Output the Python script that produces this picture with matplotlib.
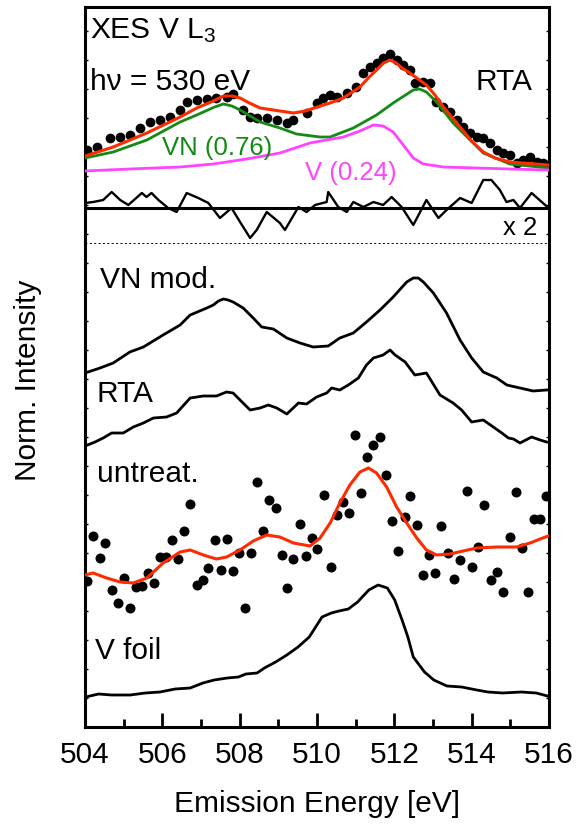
import numpy as np
import matplotlib.pyplot as plt
from matplotlib.ticker import MultipleLocator

plt.rcParams['font.family'] = ['Liberation Sans', 'DejaVu Sans']
plt.rcParams['mathtext.fontset'] = 'custom'
plt.rcParams['mathtext.rm'] = 'Liberation Sans'
plt.rcParams['mathtext.default'] = 'regular'
plt.rcParams['lines.solid_joinstyle'] = 'round'

# --- RTA sample, measured points and fit (top panel)
rta_dots_e = [504.04, 504.30, 504.65, 504.91, 505.16, 505.42, 505.68, 505.94, 506.20, 506.46,
              506.63, 506.89, 507.15, 507.40, 507.66, 507.83, 508.09, 508.27, 508.44, 508.70,
              508.96, 509.22, 509.39, 509.73, 509.99, 510.16, 510.34, 510.51, 510.77, 511.02,
              511.20, 511.37, 511.54, 511.71, 511.89, 512.06, 512.23, 512.40, 512.53, 512.75,
              512.92, 513.09, 513.27, 513.44, 513.61, 513.78, 513.96, 514.13, 514.30, 514.47,
              514.65, 514.82, 514.99, 515.16, 515.33, 515.51, 515.68, 515.85, 515.98]
rta_dots_i = [5.77, 5.80, 5.89, 5.90, 5.92, 5.99, 6.05, 6.07, 6.10, 6.17,
              6.25, 6.27, 6.28, 6.29, 6.30, 6.33, 6.17, 6.10, 6.09, 6.09,
              6.07, 6.04, 6.07, 6.14, 6.24, 6.29, 6.32, 6.30, 6.34, 6.40,
              6.54, 6.60, 6.64, 6.69, 6.73, 6.67, 6.62, 6.57, 6.44, 6.45,
              6.44, 6.25, 6.20, 6.15, 6.07, 6.00, 5.94, 5.90, 5.89, 5.84,
              5.77, 5.74, 5.72, 5.64, 5.67, 5.70, 5.65, 5.64, 5.62]

fit_e = [504.00, 504.73, 505.60, 506.46, 506.89, 507.32, 507.58, 507.80, 508.01, 508.25,
         508.53, 509.04, 509.39, 509.70, 510.08, 510.34, 510.68, 511.11, 511.35, 511.54,
         511.72, 511.89, 512.05, 512.20, 512.40, 512.83, 513.05, 513.27, 513.70, 514.00,
         514.30, 514.60, 514.99, 515.98]
fit_i = [5.71, 5.80, 5.94, 6.10, 6.19, 6.26, 6.31, 6.31, 6.29, 6.24,
         6.19, 6.16, 6.14, 6.16, 6.21, 6.24, 6.29, 6.40, 6.50, 6.57,
         6.64, 6.67, 6.64, 6.59, 6.54, 6.42, 6.32, 6.20, 6.00, 5.86,
         5.75, 5.69, 5.65, 5.62]

vn_e = [504.00, 504.73, 505.60, 506.46, 506.89, 507.35, 507.58, 507.80, 508.01, 508.53,
        509.04, 509.47, 510.08, 510.34, 510.94, 511.54, 511.97, 512.49, 512.65, 512.83,
        513.09, 513.52, 513.96, 514.30, 514.99, 515.98]
vn_i = [5.69, 5.75, 5.87, 6.05, 6.12, 6.20, 6.23, 6.21, 6.17, 6.05,
        5.99, 5.93, 5.90, 5.90, 5.99, 6.12, 6.24, 6.37, 6.38, 6.35,
        6.25, 6.04, 5.87, 5.74, 5.63, 5.59]

v_e = [504.00, 505.16, 506.46, 507.32, 508.18, 509.04, 509.82, 510.25, 510.68, 511.11,
       511.46, 511.71, 511.97, 512.23, 512.49, 512.75, 513.27, 514.13, 514.99, 515.98]
v_i = [5.56, 5.58, 5.60, 5.63, 5.68, 5.74, 5.84, 5.87, 5.90, 5.96,
       6.02, 6.01, 5.95, 5.82, 5.69, 5.63, 5.60, 5.59, 5.58, 5.57]

# residual (x2) around its zero line
resid_zero = 5.19
resid_e = [504.00, 504.21, 504.47, 504.69, 504.91, 505.12, 505.47, 505.59, 505.72, 505.90,
           506.15, 506.37, 506.63, 506.93, 507.19, 507.49, 507.79, 508.01, 508.27, 508.44,
           508.70, 509.04, 509.17, 509.52, 509.73, 509.95, 510.25, 510.29, 510.55, 510.77,
           510.94, 511.20, 511.46, 511.71, 511.93, 512.19, 512.49, 512.83, 513.14, 513.35,
           513.70, 514.00, 514.30, 514.51, 514.73, 514.90, 515.08, 515.25, 515.55, 515.90, 516.00]
resid_i = [5.24, 5.25, 5.27, 5.35, 5.27, 5.22, 5.34, 5.30, 5.34, 5.27,
           5.19, 5.15, 5.34, 5.29, 5.24, 5.09, 5.19, 5.05, 4.89, 4.97,
           5.15, 5.04, 4.97, 5.20, 5.15, 5.22, 5.25, 5.35, 5.20, 5.15,
           5.25, 5.20, 5.25, 5.22, 5.30, 5.20, 5.02, 5.27, 5.09, 5.17,
           5.29, 5.24, 5.47, 5.47, 5.37, 5.25, 5.27, 5.19, 5.34, 5.22, 5.19]
sep_level = 4.84

# --- stacked spectra (lower panel)
vnmod_e = [504.00, 504.39, 504.73, 505.16, 505.51, 506.02, 506.46, 506.72, 507.15, 507.32,
           507.45, 507.58, 507.70, 507.83, 508.09, 508.35, 508.57, 508.87, 509.22, 509.56,
           509.90, 510.29, 510.59, 510.94, 511.28, 511.63, 511.97, 512.32, 512.49, 512.62,
           512.75, 513.01, 513.35, 513.70, 514.00, 514.30, 514.65, 514.91, 515.25, 515.59, 515.94]
vnmod_i = [3.54, 3.59, 3.64, 3.75, 3.80, 3.92, 4.02, 4.12, 4.19, 4.22,
           4.26, 4.28, 4.27, 4.25, 4.19, 4.09, 4.00, 3.98, 3.89, 3.84,
           3.80, 3.81, 3.89, 3.94, 4.05, 4.17, 4.30, 4.45, 4.49, 4.49,
           4.45, 4.34, 4.14, 3.87, 3.69, 3.55, 3.49, 3.42, 3.39, 3.36, 3.37]

rta_e = [504.00, 504.26, 504.47, 504.69, 504.99, 505.25, 505.51, 505.77, 506.11, 506.37,
         506.72, 507.06, 507.40, 507.66, 507.83, 508.01, 508.27, 508.53, 508.74, 508.96,
         509.22, 509.52, 509.73, 509.99, 510.25, 510.38, 510.59, 510.81, 511.07, 511.28,
         511.46, 511.71, 511.89, 512.02, 512.28, 512.53, 512.83, 513.18, 513.52, 513.74,
         514.00, 514.30, 514.56, 514.78, 514.95, 515.08, 515.25, 515.55, 515.77, 515.94]
rta_i = [2.81, 2.85, 2.89, 2.94, 2.94, 3.00, 3.04, 3.09, 3.10, 3.14,
         3.29, 3.31, 3.31, 3.35, 3.34, 3.27, 3.17, 3.19, 3.22, 3.19,
         3.13, 3.24, 3.23, 3.30, 3.34, 3.39, 3.37, 3.42, 3.49, 3.62,
         3.69, 3.72, 3.77, 3.72, 3.65, 3.52, 3.54, 3.32, 3.24, 3.17,
         3.05, 3.07, 3.00, 2.94, 2.89, 2.88, 2.84, 2.90, 2.87, 2.85]

untr_e = [504.06, 504.21, 504.39, 504.52, 504.69, 504.86, 505.02, 505.16, 505.32, 505.47,
          505.64, 505.78, 505.94, 506.09, 506.24, 506.41, 506.56, 506.72, 506.89, 507.04,
          507.19, 507.36, 507.52, 507.66, 507.82, 507.99, 508.14, 508.29, 508.44, 508.61,
          508.77, 508.93, 509.09, 509.23, 509.39, 509.56, 509.72, 509.88, 510.01, 510.18,
          510.35, 510.51, 510.66, 510.83, 510.98, 511.13, 511.30, 511.46, 511.63, 511.78,
          511.95, 512.10, 512.27, 512.40, 512.58, 512.75, 512.90, 513.05, 513.21, 513.38,
          513.54, 513.70, 513.87, 514.02, 514.17, 514.33, 514.50, 514.66, 514.82, 514.99,
          515.15, 515.30, 515.46, 515.61, 515.77, 515.92]
untr_i = [1.46, 1.91, 1.69, 1.84, 1.37, 1.24, 1.49, 1.19, 1.40, 1.41,
          1.54, 1.44, 1.70, 1.70, 1.87, 1.68, 1.96, 2.23, 1.42, 1.47,
          1.59, 1.87, 1.57, 1.88, 1.56, 1.74, 1.19, 1.74, 2.45, 1.96,
          2.27, 2.19, 1.72, 1.39, 1.68, 2.03, 1.71, 1.89, 1.78, 2.32,
          1.60, 2.12, 2.25, 2.14, 2.92, 2.34, 2.70, 2.82, 2.90, 2.52,
          2.06, 1.76, 2.10, 2.31, 2.02, 1.52, 1.72, 1.54, 2.01, 1.74,
          1.48, 1.67, 2.36, 1.60, 1.80, 2.22, 1.47, 1.55, 1.35, 1.90,
          2.35, 1.79, 1.35, 2.08, 2.08, 2.31]

untr_fit_e = [504.00, 504.21, 504.56, 504.91, 505.25, 505.60, 506.02, 506.46, 506.72, 507.06,
              507.40, 507.66, 508.01, 508.35, 508.70, 509.04, 509.39, 509.82, 510.08, 510.34,
              510.59, 510.85, 511.11, 511.33, 511.54, 511.80, 512.06, 512.32, 512.58, 512.83,
              513.09, 513.44, 513.78, 514.13, 514.65, 515.16, 515.51, 515.77, 515.98]
untr_fit_i = [1.52, 1.54, 1.49, 1.45, 1.44, 1.49, 1.64, 1.75, 1.77, 1.72,
              1.68, 1.70, 1.77, 1.86, 1.92, 1.90, 1.84, 1.81, 1.89, 2.04,
              2.24, 2.42, 2.55, 2.59, 2.54, 2.40, 2.20, 2.04, 1.89, 1.77,
              1.72, 1.73, 1.76, 1.79, 1.80, 1.80, 1.84, 1.88, 1.91]

vfoil_e = [504.02, 504.35, 504.69, 505.17, 505.56, 505.94, 506.33, 506.72, 507.05, 507.34,
           507.68, 507.97, 508.16, 508.45, 508.64, 508.93, 509.22, 509.51, 509.80, 510.13,
           510.37, 510.57, 510.81, 511.05, 511.34, 511.58, 511.82, 512.01, 512.20, 512.35,
           512.49, 512.78, 513.02, 513.36, 513.74, 514.13, 514.42, 514.80, 515.28, 515.67, 515.96]
vfoil_i = [0.30, 0.33, 0.32, 0.32, 0.34, 0.35, 0.38, 0.39, 0.44, 0.47,
           0.49, 0.50, 0.53, 0.54, 0.59, 0.65, 0.72, 0.80, 0.90, 1.10,
           1.14, 1.16, 1.18, 1.25, 1.37, 1.42, 1.39, 1.27, 1.07, 0.90,
           0.70, 0.55, 0.47, 0.41, 0.40, 0.37, 0.35, 0.34, 0.35, 0.34, 0.31]

red = '#ff2a00'
green = '#138a13'
pink = '#ff44ff'
big = 21.5
small = 18.5

fig = plt.figure(figsize=(5.84, 8.33), dpi=100)
ax = fig.add_axes([85 / 584, 1 - 727 / 833, 464 / 584, 720 / 833])

# top panel
ax.plot(rta_dots_e, rta_dots_i, 'o', color='k', ms=7, mew=0, zorder=2)
ax.plot(vn_e, vn_i, color=green, lw=2.0, zorder=3)
ax.plot(v_e, v_i, color=pink, lw=2.0, zorder=3)
ax.plot(fit_e, fit_i, color=red, lw=2.2, zorder=4)
ax.axhline(resid_zero, color='k', lw=2.2, zorder=3)
ax.plot(resid_e, resid_i, color='k', lw=1.7, zorder=3)
ax.axhline(sep_level, color='k', lw=0.7, ls=(0, (2, 2.5)), zorder=1)

# lower panel
ax.plot(vnmod_e, vnmod_i, color='k', lw=2.0)
ax.plot(rta_e, rta_i, color='k', lw=2.0)
ax.plot(untr_e, untr_i, 'o', color='k', ms=7.2, mew=0, zorder=2)
ax.plot(untr_fit_e, untr_fit_i, color=red, lw=2.2, zorder=4)
ax.plot(vfoil_e, vfoil_i, color='k', lw=2.0)

# labels
ax.text(504.13, 6.89, r'XES V L$_3$', fontsize=big, va='baseline')
ax.text(504.13, 6.37, 'h\u03bd = 530 eV', fontsize=big, va='baseline')
ax.text(515.58, 6.37, 'RTA', fontsize=big, va='baseline', ha='right')
ax.text(505.98, 5.72, 'VN (0.76)', fontsize=small, va='baseline', color=green)
ax.text(509.69, 5.47, 'V (0.24)', fontsize=small, va='baseline', color=pink)
ax.text(515.69, 4.92, 'x 2', fontsize=small, va='baseline', ha='right')
ax.text(504.39, 4.39, 'VN mod.', fontsize=big, va='baseline')
ax.text(504.30, 3.25, 'RTA', fontsize=big, va='baseline')
ax.text(504.30, 2.45, 'untreat.', fontsize=big, va='baseline')
ax.text(504.26, 0.68, 'V foil', fontsize=big, va='baseline')

ax.set_xlim(504, 516)
ax.set_ylim(0, 7.2)
ax.xaxis.set_major_locator(MultipleLocator(2))
ax.xaxis.set_minor_locator(MultipleLocator(1))
ax.set_yticks(np.arange(0, 7.0, 0.29))
ax.tick_params(axis='x', which='major', direction='in', length=10, width=2.0,
               labelsize=big, pad=10, top=False)
ax.tick_params(axis='x', which='minor', direction='in', length=5.5, width=2.0, top=False)
ax.tick_params(axis='y', which='major', direction='in', length=2.5, width=1.0,
               left=True, right=True, labelleft=False)
for s in ax.spines.values():
    s.set_linewidth(2.2)

ax.set_xlabel('Emission Energy [eV]', fontsize=big, labelpad=15)
ax.set_ylabel('Norm. Intensity', fontsize=big)
ax.yaxis.set_label_coords(-0.093, 0.482)

fig.savefig('out.png', dpi=100)
